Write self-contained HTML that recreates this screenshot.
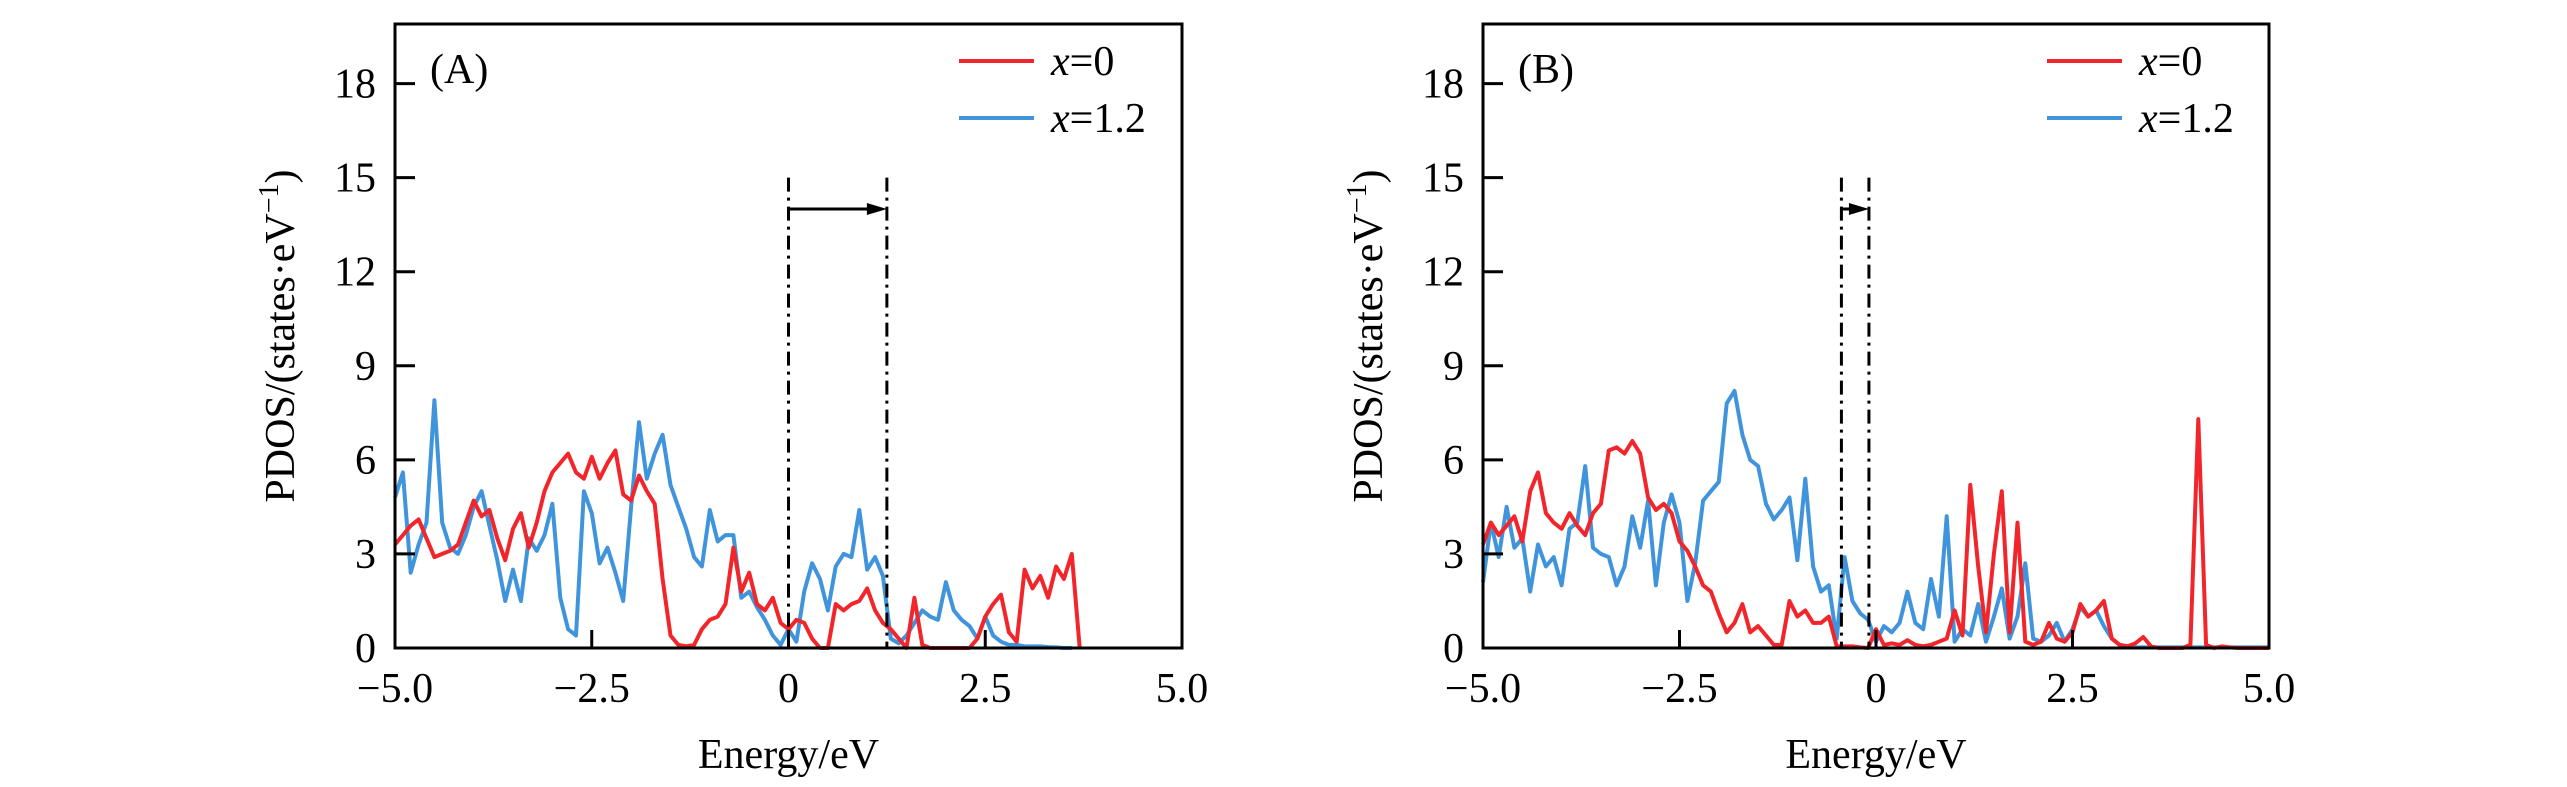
<!DOCTYPE html>
<html><head><meta charset="utf-8"><style>
html,body{margin:0;padding:0;background:#fff;}
svg{display:block;}
text{font-family:"Liberation Serif",serif;fill:#000;}
</style></head><body>
<svg id="chart" width="2567" height="787" viewBox="0 0 2567 787" xmlns="http://www.w3.org/2000/svg"></svg>
<script>
// Energy grid: -5.0 .. step 0.1
const aRed = [3.3,3.6,3.9,4.1,3.5,2.9,3.0,3.1,3.3,4.0,4.7,4.2,4.4,3.5,2.8,3.8,4.3,3.2,4.0,5.0,5.6,5.9,6.2,5.6,5.4,6.1,5.4,5.9,6.3,4.9,4.7,5.5,5.0,4.6,2.2,0.4,0.1,0.05,0.1,0.6,0.9,1.0,1.4,3.2,1.8,2.4,1.4,1.2,1.6,0.8,0.6,0.9,0.8,0.3,0,0,1.4,1.2,1.4,1.5,1.9,1.2,0.8,0.6,0.3,0,1.6,0.1,0,0,0,0,0,0,0.3,1.0,1.4,1.7,0.5,0.2,2.5,1.9,2.3,1.6,2.6,2.2,3.0,0];
const aBlue = [4.8,5.6,2.4,3.3,4.0,7.9,4.0,3.2,3.0,3.6,4.5,5.0,3.9,2.8,1.5,2.5,1.5,3.5,3.1,3.6,4.6,1.6,0.6,0.4,5.0,4.3,2.7,3.2,2.4,1.5,4.5,7.2,5.4,6.2,6.8,5.2,4.5,3.8,2.9,2.6,4.4,3.4,3.6,3.6,1.6,1.8,1.3,0.9,0.4,0.1,0.6,0.2,1.8,2.7,2.2,1.2,2.6,3.0,2.9,4.4,2.5,2.9,2.3,0.3,0.15,0.4,0.8,1.2,1.0,0.9,2.1,1.2,0.9,0.7,0.3,1.0,0.4,0.2,0.1,0.1,0.05,0.05,0.05,0.03,0.02,0,0];
const bRed = [3.3,4.0,3.6,3.9,4.2,3.4,5.0,5.6,4.3,4.0,3.8,4.3,3.9,3.6,4.3,4.6,6.3,6.4,6.2,6.6,6.2,4.8,4.4,4.6,4.3,3.4,3.1,2.6,2.0,1.8,1.1,0.5,0.8,1.4,0.5,0.7,0.4,0.1,0.1,1.5,1.0,1.2,0.8,0.8,1.0,0.05,0.05,0.05,0.02,0,0.6,0.1,0.15,0.1,0.25,0.1,0.05,0.1,0.2,0.3,1.2,0.4,5.2,2.6,0.5,3.0,5.0,0.5,4.0,0.2,0.1,0.2,0.8,0.3,0.2,0.5,1.4,1.0,1.2,1.5,0.3,0.1,0.05,0.15,0.35,0.05,0,0,0,0,0.1,7.3,0.1,0,0.05,0.02,0,0,0,0,0];
const bBlue = [2.1,4.0,2.9,4.5,3.2,3.5,1.8,3.3,2.6,2.9,2.0,3.8,4.0,5.8,3.2,3.0,2.9,2.0,2.6,4.2,3.2,4.7,2.0,4.0,4.9,4.0,1.5,2.7,4.7,5.0,5.3,7.8,8.2,6.8,6.0,5.8,4.6,4.1,4.4,4.8,2.8,5.4,2.6,1.8,2.0,0.3,2.9,1.5,1.1,0.9,0.2,0.7,0.5,0.8,1.8,0.8,0.6,2.2,1.0,4.2,0.2,0.6,0.4,1.4,0.2,1.0,1.9,0.3,1.0,2.7,0.3,0.2,0.4,0.8,0.2,0.6,1.3,1.0,1.2,0.7,0.3,0.1,0.05,0.02,0.02,0.02,0.02,0.02,0.02,0.02,0.02,0.02,0.02,0.02,0.02,0.02,0.02,0.02,0.02,0.02,0.02];
const eStart = -5.0, eStep = 0.1;
const yTicks = [0,3,6,9,12,15,18];
const xTicks = [-5.0,-2.5,0,2.5,5.0];
const xTickLabels = ["\u22125.0","\u22122.5","0","2.5","5.0"];
const gapA = [0, 1.25];
const gapB = [-0.44, -0.09];
const gapLevelTop = 15, gapArrowLevel = 14;

const NS="http://www.w3.org/2000/svg";
const svg=document.getElementById('chart');
function mk(tag,attrs,parent){const e=document.createElementNS(NS,tag);for(const k in attrs)e.setAttribute(k,attrs[k]);(parent||svg).appendChild(e);return e;}

const plotTop=24,plotBottom=648,yMax=19.9;
function yS(v){return plotBottom-(v/yMax)*(plotBottom-plotTop);}

function panel(left,right,label,red,blue,gap,id){
  const g=mk('g',{});
  
  
  const xS=e=>left+(e+5)/10*(right-left);
  function line(arr,color,name){
    let d='';
    arr.forEach((v,i)=>{const e=eStart+i*eStep;d+=(i?'L':'M')+xS(e).toFixed(1)+','+yS(v).toFixed(1);});
    const p=mk('path',{d:d,fill:'none',stroke:color,'stroke-width':4,'stroke-linejoin':'round'},g);
    
    
  }
  line(blue,'#3f94dc','series-x1.2-'+id);
  line(red,'#f2262a','series-x0-'+id);
  gap.forEach((e)=>{
    const l=mk('line',{x1:xS(e),x2:xS(e),y1:yS(gapLevelTop),y2:plotBottom,stroke:'#000','stroke-width':3,'stroke-dasharray':'14,6,3,6'},g);
    
    
  });
  const ya=yS(gapArrowLevel), x0=xS(gap[0]), x1=xS(gap[1]);
  const al=mk('line',{x1:x0,x2:x1-12,y1:ya,y2:ya,stroke:'#000','stroke-width':3},g);
  
  
  const ah=mk('polygon',{points:`${x1},${ya} ${x1-20},${ya-6} ${x1-20},${ya+6}`,fill:'#000'},g);
  
  
  const fr=mk('rect',{x:left,y:plotTop,width:right-left,height:plotBottom-plotTop,fill:'none',stroke:'#000','stroke-width':3},g);
  
  
  yTicks.forEach(v=>{
    const t=mk('line',{x1:left,x2:left+20,y1:yS(v),y2:yS(v),stroke:'#000','stroke-width':3},g);
    
    
    const tx=mk('text',{x:left-19,y:yS(v)+14,'text-anchor':'end','font-size':42},g);
    tx.textContent=v;
    
    
  });
  xTicks.forEach((v,i)=>{
    const t=mk('line',{x1:xS(v),x2:xS(v),y1:plotBottom,y2:plotBottom-18,stroke:'#000','stroke-width':3},g);
    
    
    const tx=mk('text',{x:xS(v),y:702,'text-anchor':'middle','font-size':42},g);
    tx.textContent=xTickLabels[i];
    
    
  });
  const xt=mk('text',{x:(left+right)/2,y:768,'text-anchor':'middle','font-size':42},g);
  xt.textContent='Energy/eV';
  
  
  const yx=left-115, yc=(plotTop+plotBottom)/2;
  const yt=mk('text',{x:yx,y:yc,'text-anchor':'middle','font-size':42,transform:`rotate(-90 ${yx} ${yc})`,dy:14},g);
  yt.innerHTML='PDOS/(states\u00b7eV<tspan dy="-16" font-size="28">\u22121</tspan><tspan dy="16">)</tspan>';
  
  
  const pl=mk('text',{x:left+35,y:83,'font-size':42},g);
  pl.textContent=label;
  
  
  const lx=left+564;
  [['#f2262a','0',61],['#3f94dc','1.2',118]].forEach(([c,t,y])=>{
    const l=mk('line',{x1:lx,x2:lx+75,y1:y,y2:y,stroke:c,'stroke-width':4},g);
    
    
    const tx=mk('text',{x:lx+92,y:y+14,'font-size':42},g);
    tx.innerHTML='<tspan font-style="italic">x</tspan>='+t;
    
    
  });
}
panel(395,1182,'(A)',aRed,aBlue,gapA,'a');
panel(1483,2269,'(B)',bRed,bBlue,gapB,'b');
</script>
</body></html>
